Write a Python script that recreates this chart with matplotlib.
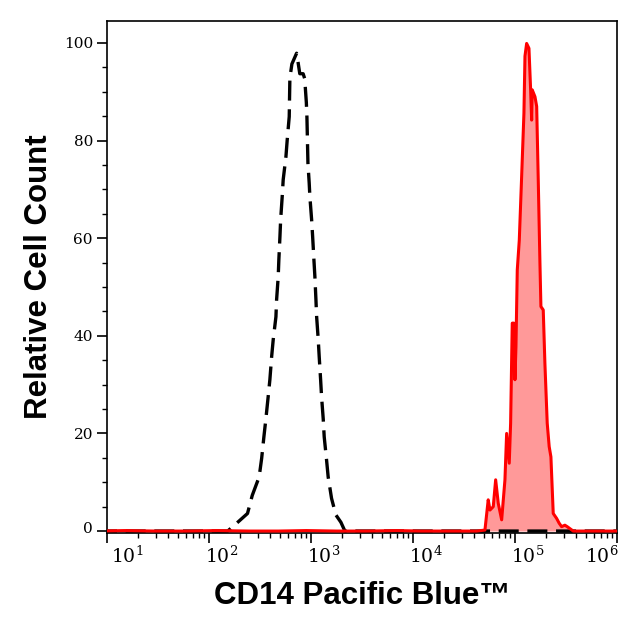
import numpy as np
import matplotlib
matplotlib.use("Agg")
import matplotlib.pyplot as plt
import matplotlib.transforms as mtransforms
from matplotlib.ticker import LogLocator, MultipleLocator, FixedLocator

plt.rcParams['mathtext.fontset'] = 'dejavuserif'

# unstained control (black dashed histogram)
ctrl_x = [8, 40, 153, 194, 239, 266, 311, 329, 346, 362, 381, 396, 412, 427,
          454, 461, 478, 485, 497, 505, 523, 535, 569, 586, 613, 622, 651, 724,
          750, 778, 839, 869, 902, 914, 935, 962, 977, 1016, 1040, 1070, 1094,
          1120, 1138, 1180, 1206, 1245, 1272, 1320, 1350, 1423, 1476, 1593,
          1757, 1968, 2153, 20000, 1.2e6]
ctrl_y = [0, 0, 0, 1.9, 3.6, 7.3, 11.1, 14.9, 19.3, 23.0, 27.5, 31.0, 35.7, 39.2,
          43.9, 47.4, 52.1, 55.6, 60.3, 63.8, 68.5, 72.0, 76.7, 80.2, 84.9, 92.8, 95.7, 97.9,
          95.9, 93.7, 93.7, 92.7, 87.8, 84.8, 75.4, 71.3, 68.5, 63.8, 60.3, 55.6, 52.1,
          47.4, 43.9, 39.2, 35.7, 31.0, 27.5, 23.0, 19.3, 14.6, 11.1, 6.7,
          3.3, 1.8, 0, 0, 0]

# CD14 Pacific Blue stained sample (red filled histogram)
stain_x = [8, 15, 30, 60, 120, 250, 480, 900, 1800, 3500, 7000, 12000, 20000,
           30000, 42000, 50800, 54700, 56900, 61300, 64700, 68600, 74100,
           79800, 82900, 87900, 90700, 94100, 97700, 100000, 102300, 105400,
           110300, 116300, 122500, 125400, 130200, 137200, 142500, 145800,
           147700, 157100, 163300, 169200, 175800, 179700, 189400, 196600,
           207200, 216600, 225200, 237300, 256000, 271500, 286600, 308700,
           325300, 345600, 372700, 500000, 1.2e6]
stain_y = [0, 0.1, 0, 0, 0.1, 0, 0, 0.1, 0, 0, 0.1, 0, 0,
           0, 0, 0.2, 6.4, 4.3, 5.0, 10.5, 5.7, 2.3,
           10.5, 20.0, 13.9, 22.1, 42.6, 42.6, 31.0, 37.8, 53.5,
           59.6, 72.6, 85.6, 97.3, 99.9, 98.9, 90.4, 84.2,
           90.4, 89.0, 87.0, 72.0, 54.9, 46.0, 45.3, 34.4,
           22.1, 17.3, 15.2, 3.6, 2.6, 1.6, 0.9, 1.2,
           0.9, 0.5, 0, 0, 0]

x_ticks = [1e1, 1e2, 1e3, 1e4, 1e5, 1e6]
y_ticks = [0, 20, 40, 60, 80, 100]

fig = plt.figure(figsize=(6.4, 6.31), dpi=100)
ax = fig.add_axes([0.167, 0.1553, 0.797, 0.8114])

ax.fill_between(stain_x, stain_y, 0, color='#ff9999', lw=0, zorder=1)
ax.plot(ctrl_x, ctrl_y, color='black', lw=2.4, linestyle=(0, (6, 2.6)), zorder=2)
ax.plot(stain_x, stain_y, color='#ff0000', lw=2.2, zorder=3)

ax.set_xscale('log')
ax.set_xlim(10, 1e6)
ax.set_ylim(-0.4, 104.5)

ax.xaxis.set_major_locator(FixedLocator(x_ticks))
ax.xaxis.set_minor_locator(LogLocator(base=10, subs=np.arange(2, 10), numticks=20))
ax.yaxis.set_major_locator(FixedLocator(y_ticks))
ax.yaxis.set_minor_locator(MultipleLocator(5))

ax.tick_params(which='major', direction='out', length=7, width=1.2)
ax.tick_params(which='minor', direction='out', length=3.5, width=1)
ax.tick_params(axis='x', which='major', pad=2)
ax.tick_params(axis='y', which='major', pad=3)

ax.set_xticks(x_ticks, [r'$\mathdefault{10^{%d}}$' % int(np.log10(v)) for v in x_ticks])


def shift(dx_px, dy_px):
    return mtransforms.ScaledTranslation(dx_px / 100, dy_px / 100, fig.dpi_scale_trans)


xlabs = ax.get_xticklabels()
for i, lab in enumerate(xlabs):
    lab.set_fontfamily('DejaVu Serif')
    lab.set_fontsize(13.5)
    if i == 0:
        lab.set_ha('left')
        lab.set_transform(lab.get_transform() + shift(4, 0))
    elif i == len(xlabs) - 1:
        lab.set_ha('right')
        lab.set_transform(lab.get_transform() + shift(2, 0))
    else:
        lab.set_ha('left')
        lab.set_transform(lab.get_transform() + shift(-4, 0))

ylabs = ax.get_yticklabels()
for i, lab in enumerate(ylabs):
    lab.set_fontfamily('DejaVu Serif')
    lab.set_fontsize(11)
    if i == 0:
        lab.set_transform(lab.get_transform() + shift(0, 4))

for sp in ax.spines.values():
    sp.set_linewidth(1.2)

ax.set_xlabel('CD14 Pacific Blue™', family='Liberation Sans', fontweight='bold',
              fontsize=22.5, labelpad=10)
ax.set_ylabel('Relative Cell Count', family='Liberation Sans', fontweight='bold',
              fontsize=22.5, labelpad=7)

fig.savefig('out.png', dpi=100)
